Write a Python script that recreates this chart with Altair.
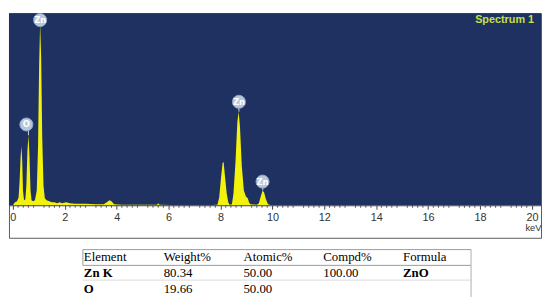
import altair as alt
import pandas as pd

# ---------------- data ----------------
kev = [0.00, 0.08, 0.16, 0.22, 0.26, 0.30, 0.33, 0.36, 0.39, 0.43, 0.48, 0.52, 0.56, 0.60,
       0.64, 0.68, 0.72, 0.78, 0.85, 0.92, 0.97, 1.01, 1.05, 1.09, 1.13, 1.18, 1.23, 1.30,
       1.40, 1.50, 1.60, 1.70, 1.80, 1.90, 2.05, 2.20, 2.40, 2.80, 3.20, 3.50, 3.62, 3.72,
       3.80, 3.90, 4.20, 5.00, 5.55, 5.60, 5.65, 6.50, 7.50, 7.88, 7.95, 8.02, 8.08, 8.12,
       8.17, 8.24, 8.30, 8.35, 8.44, 8.50, 8.58, 8.65, 8.70, 8.75, 8.82, 8.90, 8.98, 9.05,
       9.10, 9.15, 9.40, 9.48, 9.55, 9.62, 9.68, 9.75, 9.83, 9.95, 20.30]
counts = [0, 3, 4, 8, 25, 50, 60, 45, 15, 5, 6, 20, 55, 71,
          50, 15, 5, 4, 5, 15, 60, 140, 185, 150, 70, 20, 7, 5,
          4, 3, 3, 2, 3, 2, 3, 2, 1.5, 1.5, 1, 1, 3, 5,
          4, 1, 0.5, 0.5, 0.5, 2, 0.5, 0, 0, 0.5, 8, 28, 43, 44,
          30, 12, 3, 0.5, 1, 12, 45, 85, 95, 80, 40, 15, 9, 7,
          3, 1, 0.5, 2, 9, 15, 13, 6, 1, 0, 0]

peak_elements = ["O", "Zn", "Zn", "Zn"]
peak_label_kev = [0.52, 1.05, 8.71, 9.62]
peak_line_kev = [0.60, 1.05, 8.71, 9.63]
peak_label_counts = [82, 188, 105, 24]
peak_top_counts = [71, 185, 95, 15]

major_ticks = list(range(0, 21))
minor_ticks = [round(0.2 * i, 1) for i in range(101) if i % 5 != 0]

table_columns = ["Element", "Weight%", "Atomic%", "Compd%", "Formula"]
row_element = ["Zn K", "O"]
row_weight = ["80.34", "19.66"]
row_atomic = ["50.00", "50.00"]
row_compd = ["100.00", ""]
row_formula = ["ZnO", ""]

# ---------------- styles ----------------
NAVY = "#1f3160"
YELLOW = "#f2f20c"
W = 540
H = 228

spec_df = pd.DataFrame({"kev": kev, "counts": counts})
peaks_df = pd.DataFrame({"el": peak_elements, "lk": peak_label_kev, "pk": peak_line_kev,
                         "lc": peak_label_counts, "pc": peak_top_counts})
minor_df = pd.DataFrame({"t": minor_ticks})

xs = alt.Scale(domain=[-0.15, 20.35], nice=False, zero=False)
ys = alt.Scale(domain=[-33, 195], nice=False, zero=False)

bg = alt.Chart(pd.DataFrame({"a": [0]})).mark_rect(color=NAVY).encode(
    x=alt.value(0), x2=alt.value(W), y=alt.value(0), y2=alt.value(195)
)

area = alt.Chart(spec_df).mark_area(color=YELLOW, interpolate="linear").encode(
    x=alt.X("kev:Q", scale=xs,
            axis=alt.Axis(values=major_ticks, offset=-33, tickSize=4, tickColor="#444",
                          domainColor="#444", grid=False, zindex=1,
                          labelExpr="datum.value % 2 == 0 ? datum.label : ''",
                          labelFontSize=11, labelColor="#333", labelFont="Liberation Sans",
                          labelPadding=2,
                          title="keV", titleAnchor="end", titleFontSize=9.5,
                          titleFontWeight="normal", titleColor="#333",
                          titleFont="Liberation Sans", titlePadding=1)),
    y=alt.Y("counts:Q", scale=ys, axis=None),
    y2=alt.datum(0),
)

minor = alt.Chart(minor_df).mark_rule(color="#555", strokeWidth=1).encode(
    x=alt.X("t:Q", scale=xs), y=alt.value(195), y2=alt.value(197.5)
)

lines = alt.Chart(peaks_df).mark_rule(color="#c8d4e4", strokeWidth=1).encode(
    x=alt.X("pk:Q", scale=xs),
    y=alt.Y("lc:Q", scale=ys, axis=None),
    y2="pc:Q",
)

circles = alt.Chart(peaks_df).mark_circle(size=175, color="#b7c7dc", opacity=1,
                                          stroke="#8ea6c6", strokeWidth=1).encode(
    x=alt.X("lk:Q", scale=xs),
    y=alt.Y("lc:Q", scale=ys, axis=None),
)

labels = alt.Chart(peaks_df).mark_text(color="white", fontSize=8.5, fontWeight="bold",
                                       font="DejaVu Sans").encode(
    x=alt.X("lk:Q", scale=xs),
    y=alt.Y("lc:Q", scale=ys, axis=None),
    text="el:N",
)

title_txt = alt.Chart(pd.DataFrame({"s": ["Spectrum 1"]})).mark_text(
    align="right", baseline="middle", color="#c4e04a", fontSize=11, fontWeight="bold",
    font="Liberation Sans"
).encode(x=alt.value(533), y=alt.value(7), text="s:N")

spectrum = alt.layer(bg, area, minor, lines, circles, labels, title_txt).properties(
    width=W, height=H, view=alt.ViewBackground(stroke="#5a5a5a", strokeWidth=1)
)

# ---------------- table ----------------
rows = [table_columns]
for i in range(len(row_element)):
    rows.append([row_element[i], row_weight[i], row_atomic[i], row_compd[i], row_formula[i]])
cells = []
for r, row in enumerate(rows):
    for c, val in enumerate(row):
        bold = r > 0 and c in (0, 4)
        cells.append({"r": r, "c": c, "txt": val, "bold": bold})
cells_df = pd.DataFrame(cells)

txs = alt.Scale(domain=[-76 / 81, (W - 76) / 81], nice=False, zero=False)
tys = alt.Scale(domain=[-1.1875, 2.8125], nice=False, zero=False, reverse=True)

regular = alt.Chart(cells_df).transform_filter("!datum.bold").mark_text(
    align="left", baseline="middle", fontSize=13, font="Liberation Serif", color="#000"
).encode(x=alt.X("c:Q", scale=txs, axis=None), y=alt.Y("r:Q", scale=tys, axis=None), text="txt:N")

boldtxt = alt.Chart(cells_df).transform_filter("datum.bold").mark_text(
    align="left", baseline="middle", fontSize=13, font="Liberation Serif", color="#000",
    fontWeight="bold"
).encode(x=alt.X("c:Q", scale=txs, axis=None), y=alt.Y("r:Q", scale=tys, axis=None), text="txt:N")

one = pd.DataFrame({"a": [0]})
top_line = alt.Chart(one).mark_rule(color="#9a9a9a").encode(
    x=alt.value(75), x2=alt.value(469), y=alt.value(11))
head_line = alt.Chart(one).mark_rule(color="#9a9a9a").encode(
    x=alt.value(75), x2=alt.value(469), y=alt.value(27))
row_line = alt.Chart(one).mark_rule(color="#dadada").encode(
    x=alt.value(75), x2=alt.value(469), y=alt.value(42))
left_line = alt.Chart(one).mark_rule(color="#9a9a9a").encode(
    x=alt.value(75), y=alt.value(11), y2=alt.value(27))
right_line = alt.Chart(one).mark_rule(color="#b0b0b0").encode(
    x=alt.value(469), y=alt.value(11), y2=alt.value(59))

table = alt.layer(top_line, head_line, row_line, left_line, right_line, regular, boldtxt).properties(
    width=W, height=64, view=alt.ViewBackground(strokeOpacity=0)
)

chart = alt.vconcat(spectrum, table, spacing=0).properties(
    padding=0, background="white"
)

chart.save("out.html", embed_options={"renderer": "svg", "actions": False})
